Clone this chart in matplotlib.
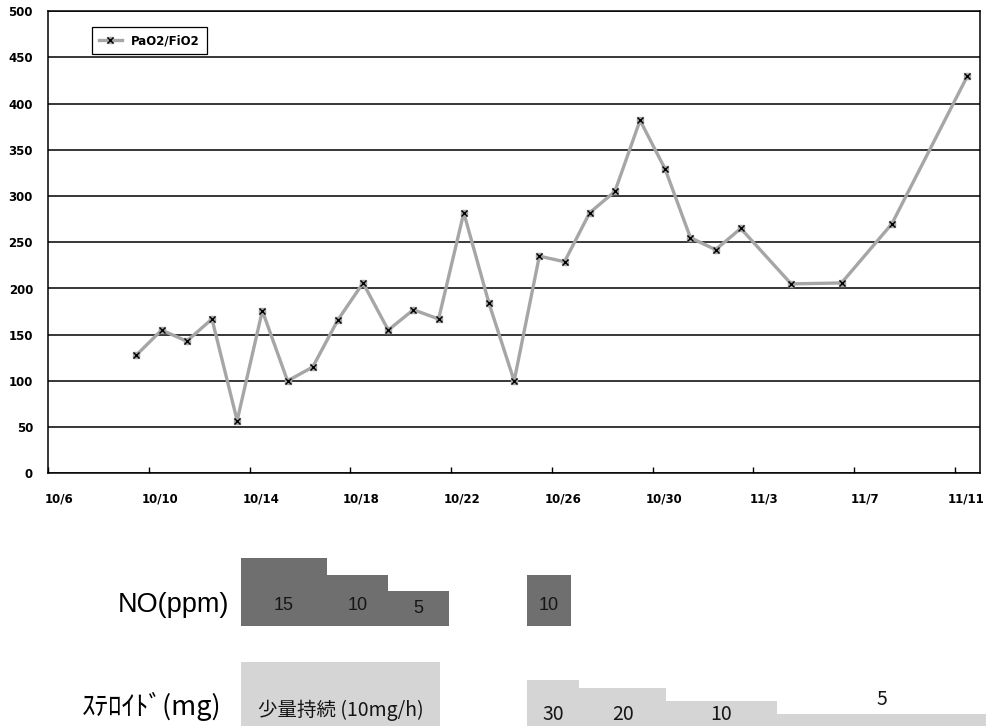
import matplotlib
matplotlib.use('Agg')
import matplotlib.pyplot as plt
import matplotlib.transforms as mtransforms
from matplotlib.patches import Rectangle
from matplotlib.lines import Line2D
from matplotlib.legend_handler import HandlerTuple
import numpy as np

# PaO2/FiO2, x = days counted from 10/6
day_offsets = [3.5, 4.5, 5.5, 6.5, 7.5, 8.5, 9.5, 10.5, 11.5, 12.5, 13.5, 14.5, 15.5,
               16.5, 17.5, 18.5, 19.5, 20.5, 21.5, 22.5, 23.5, 24.5, 25.5, 26.5, 27.5,
               29.5, 31.5, 33.5, 36.5]
pf_ratio = [128, 155, 143, 167, 57, 176, 100, 115, 166, 206, 155, 177, 167,
            282, 184, 100, 235, 229, 282, 305, 382, 329, 255, 242, 265,
            205, 206, 270, 430]

tick_days = [0, 4, 8, 12, 16, 20, 24, 28, 32, 36]
tick_labels = ['10/6', '10/10', '10/14', '10/18', '10/22', '10/26', '10/30',
               '11/3', '11/7', '11/11']

# NO inhalation periods (days from 10/6) and dose in ppm
no_start = [7.65, 11.08, 13.5, 19.02]
no_end = [11.08, 13.5, 15.91, 20.76]
no_dose = [15, 10, 5, 10]

# steroid periods and dose (mg); first one is a continuous low dose
ster_start = [7.65, 19.02, 21.09, 24.53, 28.93]
ster_end = [15.56, 21.09, 24.53, 28.93, 40.0]
ster_dose = [None, 30, 20, 10, 5]
ster_text = ['少量持続 (10mg/h)', '30', '20', '10', '5']

W, H = 987, 726
fig = plt.figure(figsize=(W / 100, H / 100), dpi=100)

# main chart
ax = fig.add_axes([48.3 / W, 1 - 473.3 / H, 931.7 / W, 462.0 / H])
ax.set_xlim(0, 37)
ax.set_ylim(0, 500)
ax.set_yticks(range(0, 501, 50))
ax.yaxis.grid(True, color='black', lw=1.1)
ax.set_axisbelow(True)
for s in ax.spines.values():
    s.set_color('black')
    s.set_linewidth(1.1)

ax.plot(day_offsets, pf_ratio, color='#a6a6a6', lw=2.4, marker='s', ms=5,
        mfc='#a6a6a6', mec='#a6a6a6', zorder=3)
ax.plot(day_offsets, pf_ratio, ls='none', marker='x', ms=4, mew=1, color='black', zorder=4)

ax.set_xticks(tick_days)
ax.set_xticklabels(tick_labels)
ax.tick_params(axis='x', direction='in', length=4, width=1, pad=14)
ax.tick_params(axis='y', length=0, pad=11)
for lab in ax.get_xticklabels() + ax.get_yticklabels():
    lab.set_fontweight('bold')
    lab.set_fontsize(8.5)
offset = mtransforms.ScaledTranslation(0.11, 0, fig.dpi_scale_trans)
for lab in ax.get_xticklabels():
    lab.set_transform(lab.get_transform() + offset)

h_line = Line2D([], [], color='#a6a6a6', lw=2.4, marker='s', ms=5, mfc='#a6a6a6', mec='#a6a6a6')
h_x = Line2D([], [], ls='none', marker='x', ms=4, mew=1, color='black')
leg = ax.legend([(h_line, h_x)], ['PaO2/FiO2'], handler_map={tuple: HandlerTuple(ndivide=1)},
                loc='upper left', bbox_to_anchor=(0.047, 0.966), borderaxespad=0,
                fancybox=False, edgecolor='black', framealpha=1, handlelength=1.9,
                prop={'weight': 'bold', 'size': 8.5}, borderpad=0.6)
leg.get_frame().set_linewidth(0.9)

# lower treatment bars, y in pixels from the top of the figure
bx = fig.add_axes([0, 0, 1, 186 / H])
x0, x1 = 48.3 / W, 980 / W
span = 37 / (x1 - x0)
bx.set_xlim(-x0 * span, 37 + (1 - x1) * span)
bx.set_ylim(H, 540)
bx.axis('off')

no_color = '#6f6f6f'
ster_color = '#d5d5d5'
no_bottom = 626
for s, e, d in zip(no_start, no_end, no_dose):
    h = 18 + 3.3 * d
    bx.add_patch(Rectangle((s, no_bottom - h), e - s, h, color=no_color, lw=0))
    bx.text((s + e) / 2, no_bottom - min(h / 2, 20), str(d), ha='center', va='center',
            fontsize=13, color='#151515', family=['Liberation Sans'])

ster_bottom = H
for s, e, d, t in zip(ster_start, ster_end, ster_dose, ster_text):
    h = 64 if d is None else 19.1 * np.log(d) - 19
    top = ster_bottom - h
    bx.add_patch(Rectangle((s, top), e - s, h, color=ster_color, lw=0))
    ty = 710 if d is None else 715
    if ty < top + 8:
        ty = top - 15
    xc = (s + e) / 2 if e < 38 else (s + 37.28) / 2
    bx.text(xc, ty, t, ha='center', va='center', fontsize=14, color='#151515',
            family=['Noto Sans CJK JP', 'DejaVu Sans'])

fig.text(229 / W, 1 - 605 / H, 'NO(ppm)', ha='right', va='center', fontsize=19.5,
         family=['Liberation Sans'])
fig.text(221 / W, 1 - 706 / H, 'ｽﾃﾛｲﾄﾞ(mg)', ha='right', va='center', fontsize=19.5,
         family=['Noto Sans CJK JP', 'DejaVu Sans'])

fig.savefig('out.png', dpi=100)
